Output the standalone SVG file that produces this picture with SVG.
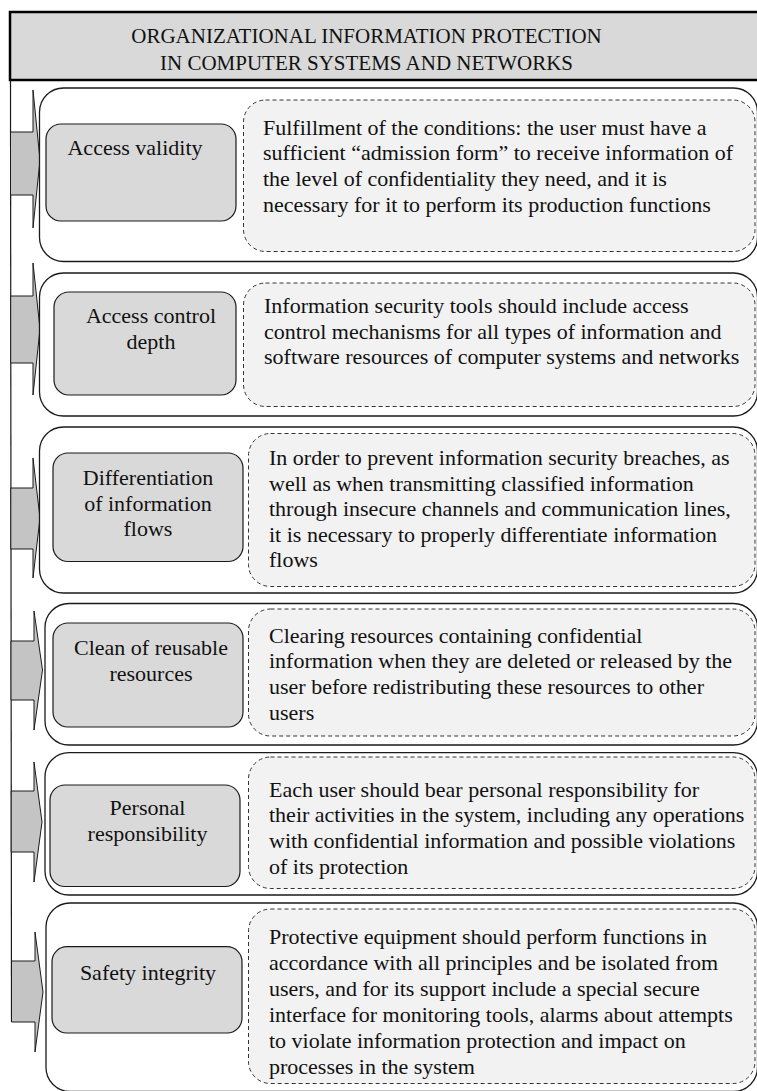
<svg xmlns="http://www.w3.org/2000/svg" width="757" height="1091" viewBox="0 0 757 1091">
<style>
.t{font-size:22px;}
.title{font-size:21px;text-anchor:middle;}
.g{font-size:22px;text-anchor:middle;}
.outer{fill:#fff;stroke:#1a1a1a;stroke-width:1.3;}
.key{fill:#d9d9d9;stroke:#1a1a1a;stroke-width:1.2;}
.desc{fill:#f2f2f2;stroke:#333;stroke-width:1;stroke-dasharray:4 3;}
.arr{fill:#c4c4c4;stroke:#1a1a1a;stroke-width:1;stroke-linejoin:miter;}
</style>
<rect width="757" height="1091" fill="#fff"/>
<g font-family="Liberation Serif, DejaVu Serif, serif" fill="#111">

<g id="title">
<rect x="10" y="12" width="760" height="68" fill="#d9d9d9" stroke="#000" stroke-width="2.5"/>
<text class="title" x="366.5" y="43">ORGANIZATIONAL INFORMATION PROTECTION</text>
<text class="title" x="366.5" y="70">IN COMPUTER SYSTEMS AND NETWORKS</text>
</g>

<g id="connectors">
<line x1="10.5" y1="80" x2="11.5" y2="1022" stroke="#1a1a1a" stroke-width="1.2"/>
<polygon class="arr" points="10.5,132 33,132 33,90 40,160 33,228 33,195 10.5,195"/>
<polygon class="arr" points="10.7,296 33,296 33,263 40,329 33,395 33,363 10.7,363"/>
<polygon class="arr" points="10.8,488 33,488 33,458 40,518 33,578 33,549 10.8,549"/>
<polygon class="arr" points="11,641 34,641 34,611 42.5,670 34,730 34,700 11,700"/>
<polygon class="arr" points="11.2,791 34,791 34,762 42,822 34,882 34,852 11.2,852"/>
<polygon class="arr" points="11.5,961 35,961 35,932 43,992 35,1052 35,1022 11.5,1022"/>
</g>

<g id="row1">
<rect class="outer" x="39.5" y="88" width="718" height="173.5" rx="24"/>
<rect class="key" x="46" y="124" width="190" height="97" rx="15"/>
<text class="g" x="135" y="155">Access validity</text>
<rect class="desc" x="243.5" y="100" width="511.5" height="151.5" rx="22"/>
<text class="t" x="263" y="134.5">Fulfillment of the conditions: the user must have a</text>
<text class="t" x="263" y="160.2">sufficient “admission form” to receive information of</text>
<text class="t" x="263" y="185.9">the level of confidentiality they need, and it is</text>
<text class="t" x="263" y="211.6">necessary for it to perform its production functions</text>
</g>

<g id="row2">
<rect class="outer" x="39.5" y="273" width="718" height="143" rx="24"/>
<rect class="key" x="54" y="292" width="182" height="103" rx="15"/>
<text class="g" x="151" y="322.7">Access control</text>
<text class="g" x="151" y="349">depth</text>
<rect class="desc" x="243.5" y="283" width="511.5" height="123.5" rx="22"/>
<text class="t" x="264" y="313">Information security tools should include access</text>
<text class="t" x="264" y="338.7">control mechanisms for all types of information and</text>
<text class="t" x="264" y="364.4">software resources of computer systems and networks</text>
</g>

<g id="row3">
<rect class="outer" x="39.5" y="427" width="718" height="166" rx="24"/>
<rect class="key" x="53" y="453" width="190" height="108.5" rx="15"/>
<text class="g" x="148" y="485">Differentiation</text>
<text class="g" x="148" y="510.5">of information</text>
<text class="g" x="148" y="536">flows</text>
<rect class="desc" x="248.5" y="433.5" width="506.5" height="153" rx="22"/>
<text class="t" x="269" y="465">In order to prevent information security breaches, as</text>
<text class="t" x="269" y="490.5">well as when transmitting classified information</text>
<text class="t" x="269" y="516.3">through insecure channels and communication lines,</text>
<text class="t" x="269" y="541.8">it is necessary to properly differentiate information</text>
<text class="t" x="269" y="567.3">flows</text>
</g>

<g id="row4">
<rect class="outer" x="45" y="603.5" width="712.5" height="141.5" rx="24"/>
<rect class="key" x="53" y="623" width="190" height="104" rx="15"/>
<text class="g" x="151" y="655">Clean of reusable</text>
<text class="g" x="151" y="680.7">resources</text>
<rect class="desc" x="248.5" y="609" width="506.5" height="127" rx="22"/>
<text class="t" x="269" y="642.5">Clearing resources containing confidential</text>
<text class="t" x="269" y="668.2">information when they are deleted or released by the</text>
<text class="t" x="269" y="693.9">user before redistributing these resources to other</text>
<text class="t" x="269" y="719.6">users</text>
</g>

<g id="row5">
<rect class="outer" x="45" y="752.7" width="712.5" height="142.3" rx="24"/>
<rect class="key" x="50" y="785" width="190" height="101.5" rx="15"/>
<text class="g" x="147.5" y="815">Personal</text>
<text class="g" x="147.5" y="840.5">responsibility</text>
<rect class="desc" x="248.5" y="757" width="506.5" height="131.5" rx="22"/>
<text class="t" x="269" y="796.5">Each user should bear personal responsibility for</text>
<text class="t" x="269" y="822.2">their activities in the system, including any operations</text>
<text class="t" x="269" y="847.9">with confidential information and possible violations</text>
<text class="t" x="269" y="873.6">of its protection</text>
</g>

<g id="row6">
<rect class="outer" x="46" y="903" width="711.5" height="188.5" rx="24"/>
<rect class="key" x="52" y="946.7" width="190" height="86.3" rx="15"/>
<text class="g" x="148" y="980">Safety integrity</text>
<rect class="desc" x="248.5" y="909" width="506.5" height="174.5" rx="22"/>
<text class="t" x="269" y="943.5">Protective equipment should perform functions in</text>
<text class="t" x="269" y="969.5">accordance with all principles and be isolated from</text>
<text class="t" x="269" y="995.5">users, and for its support include a special secure</text>
<text class="t" x="269" y="1021.5">interface for monitoring tools, alarms about attempts</text>
<text class="t" x="269" y="1047.5">to violate information protection and impact on</text>
<text class="t" x="269" y="1073.5">processes in the system</text>
</g>
</g>
</svg>
